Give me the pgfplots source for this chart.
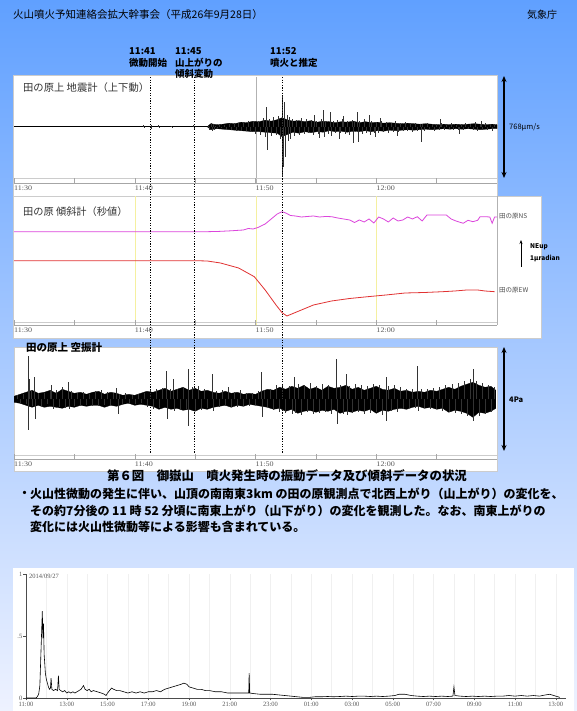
\documentclass[border=0pt]{standalone}
\usepackage{pgfplots}
\pgfplotsset{compat=1.18}
\usepackage{fontspec}
\setmainfont{Liberation Sans}
\newfontfamily\jp{Noto Sans CJK JP}
\newfontfamily\ser{Liberation Serif}
\usetikzlibrary{arrows.meta}
\definecolor{bgtop}{RGB}{96,160,255}
\definecolor{bgmid}{RGB}{165,198,255}
\definecolor{bgbot}{RGB}{238,242,255}
\definecolor{nscol}{RGB}{220,70,220}
\definecolor{ewcol}{RGB}{225,50,50}
\definecolor{gridy}{RGB}{245,240,160}
\newcommand{\fs}[1]{\fontsize{#1bp}{#1bp}\selectfont}
\pgfplotsset{
  panel/.style={scale only axis, width=483bp, xmin=0, xmax=40,
    axis x line*=bottom, axis y line=none, x axis line style={-,gray!70},
    xtick={0,10,20,30}, xticklabels={11:30,11:40,11:50,12:00},
    minor xtick={5,15,25,35}, tick align=inside,
    major tick length=5bp, minor tick length=5bp,
    tick style={gray!70, line width=0.5bp},
    xticklabel style={font=\ser\fs{7}, text=gray!70!black, anchor=north west, inner sep=0pt, yshift=-3bp, xscale=1.15},
    clip=true},
}
\begin{document}
\begin{tikzpicture}[x=1bp,y=1bp, jt/.style={inner sep=0pt, anchor=west}]
\useasboundingbox (0,0) rectangle (577,711);
\clip (0,0) rectangle (577,711);
\shade[top color=bgtop, middle color=bgmid, bottom color=bgbot] (0,0) rectangle (577,711);

% white panels
\fill[white, draw=gray!40, line width=0.5bp] (13,515) rectangle (497,636);
\fill[white, draw=gray!40, line width=0.5bp] (13,373) rectangle (541,515);
\fill[white, draw=gray!40, line width=0.5bp] (14,240) rectangle (497,364);
\fill[white] (13,0) rectangle (574,143);

% header
\node[jt] at (13,696) {\jp\fs{10.5}火山噴火予知連絡会拡大幹事会（平成26年9月28日）};
\node[jt] at (527,696) {\jp\fs{10}気象庁};

% event annotations
\node[jt] at (129,660.3) {\jp\bfseries\fs{9.5}11:41};
\node[jt] at (129,648.3) {\jp\bfseries\fs{9.5}微動開始};
\node[jt] at (175,660.3) {\jp\bfseries\fs{9.5}11:45};
\node[jt] at (175,648.3) {\jp\bfseries\fs{9.5}山上がりの};
\node[jt] at (175,637.2) {\jp\bfseries\fs{9.5}傾斜変動};
\node[jt] at (270,660.3) {\jp\bfseries\fs{9.5}11:52};
\node[jt] at (270,648.3) {\jp\bfseries\fs{9.5}噴火と推定};

% ---------- panel 1: seismometer ----------
\draw[gray!60, line width=0.5bp] (256,634) -- (256,528);
\draw[gray!40, line width=0.5bp] (14,533) -- (497,533);
\begin{axis}[panel, at={(14bp,528bp)}, height=106bp, ymin=-56.3, ymax=49.7]
\addplot[black, line width=0.5bp] coordinates {(0,0) (40,0)};
\addplot[fill=black, draw=black, line width=0.3bp] coordinates {
(16,0) (16.3,3) (16.8,2) (17.3,2.5) (17.8,3.5) (18.3,3) (18.8,4.5) (19.3,4) (19.8,5.5) (20.3,5)
(20.8,6.5) (21.3,5.5) (21.8,7) (22.2,9) (22.6,7) (23.1,5.5) (23.6,6) (24.1,5) (24.6,6) (25.1,4.5)
(25.6,5.5) (26.1,5) (26.6,4) (27.1,5) (27.6,4.5) (28.1,5.5) (28.6,4) (29.1,5) (29.6,4) (30.1,4.5)
(30.6,3.5) (31.1,4) (31.6,3.5) (32.1,3) (32.6,3.5) (33.1,3) (33.6,2.5) (34.1,3) (34.6,2.5) (35.1,2)
(35.6,2.5) (36.1,2) (36.6,2.5) (37.1,2) (37.6,2.5) (38.1,3) (38.6,2.5) (39.1,2) (39.6,2.5) (40,2)
(40,-2) (39.6,-2) (39.1,-2.5) (38.6,-3) (38.1,-2.5) (37.6,-2) (37.1,-2.5) (36.6,-2) (36.1,-2.5)
(35.6,-2) (35.1,-2.5) (34.6,-3) (34.1,-2.5) (33.6,-3) (33.1,-3.5) (32.6,-3) (32.1,-3.5) (31.6,-4)
(31.1,-3.5) (30.6,-4.5) (30.1,-4) (29.6,-5) (29.1,-4) (28.6,-5) (28.1,-4.5) (27.6,-5.5) (27.1,-4.5)
(26.6,-5) (26.1,-4) (25.6,-5.5) (25.1,-5) (24.6,-6) (24.1,-5) (23.6,-6.5) (23.1,-5.5) (22.6,-8)
(22.2,-10) (21.8,-6.5) (21.3,-6) (20.8,-5.5) (20.3,-5) (19.8,-5) (19.3,-4.5) (18.8,-4) (18.3,-3.5)
(17.8,-3) (17.3,-2.5) (16.8,-2) (16.3,-3) (16,0)
} -- cycle;
\addplot[ycomb, black!80, line width=0.4bp] coordinates {
(10.7,1.5) (10.75,-1.5) (11.35,2) (11.4,-2) (11.95,1.5) (12.0,-1.5) (13.05,1) (13.1,-1)
(14.85,2) (14.9,-2.5) (16.1,2) (16.2,-3) (16.3,4) (16.4,-4)
(16.5,3) (16.6,-3) (16.7,1) (16.8,-1) (17.0,1.5) (17.2,-1.5) (17.4,2) (17.6,-2) (17.8,3)
(18.0,-3) (18.2,4) (18.4,-4) (18.6,3.5) (18.8,-4.5) (19.0,5) (19.2,-4) (19.4,5.5) (19.6,-5)
(19.8,6) (20.0,-7) (20.2,6) (20.4,-8) (20.6,9) (20.8,-10) (20.9,20) (21.0,-23) (21.1,8)
(21.3,-9) (21.5,10) (21.7,-8) (21.9,11) (22.05,-12) (22.2,32) (22.25,-50) (22.3,-40) (22.35,25) (22.4,20) (22.5,-30)
(22.6,12) (22.7,-14) (22.8,10) (22.9,-12) (23.0,8) (23.2,-9) (23.4,7) (23.6,-8) (23.8,9)
(24.0,-7) (24.2,8) (24.4,-6) (24.6,7) (24.8,-8) (24.9,12) (25.0,6) (25.2,-7) (25.3,-11) (25.4,8) (25.6,17)
(25.7,-10) (25.8,6) (26.0,-7) (26.2,15) (26.3,-9) (26.4,6) (26.6,-6) (26.8,7) (26.9,-12) (27.0,-6)
(27.2,8) (27.3,11) (27.4,-7) (27.6,6) (27.8,-8) (28.0,7) (28.1,-16) (28.2,6) (28.4,15) (28.5,-15)
(28.6,6) (28.8,-7) (29.0,8) (29.2,-6) (29.4,12) (29.5,-8) (29.6,6) (29.8,-6) (29.9,-10) (30.0,5)
(30.2,-6) (30.3,9) (30.4,6) (30.6,-5) (30.8,5) (31.0,-6) (31.2,4) (31.4,-5) (31.6,6) (31.7,-9) (31.8,-5)
(32.0,4) (32.2,-4) (32.4,5) (32.6,-4) (32.8,4) (33.0,-5) (33.2,4) (33.4,-4) (33.6,3)
(33.7,-15) (33.8,3) (34.0,-4) (34.2,4) (34.4,-3) (34.6,3) (34.8,-4) (35.0,3) (35.2,-3) (35.3,8)
(35.4,4) (35.6,-3) (35.8,3) (36.0,-2) (36.2,4) (36.4,-3) (36.6,2) (36.8,-3) (36.9,-7) (37.0,3)
(37.2,-3) (37.4,4) (37.6,-2) (37.8,3) (38.0,-3) (38.2,5) (38.4,-4) (38.6,3) (38.7,6) (38.8,-3)
(39.0,4) (39.2,-3) (39.4,3) (39.6,-4) (39.8,3)
};
\end{axis}
\node[jt] at (23,623.7) {\jp\fs{10.3}\color{black!80}田の原上 地震計（上下動）};
\draw[line width=1.3bp, {Stealth[length=6bp,width=5bp]}-{Stealth[length=6bp,width=5bp]}] (504,635) -- (504,533);
\node[jt] at (509,584) {\jp\fs{7.5}768μm/s};

% ---------- panel 2: tiltmeter ----------
\draw[gridy, line width=0.8bp] (135,386) -- (135,515);
\draw[gridy, line width=0.8bp] (256,386) -- (256,515);
\draw[gridy, line width=0.8bp] (376,386) -- (376,515);
\draw[gray!60, line width=0.5bp] (497,386) -- (497,515);
\draw[gray!40, line width=0.5bp] (14,389) -- (497,389);
\begin{axis}[panel, at={(14bp,386bp)}, height=129bp, ymin=0, ymax=129]
\addplot[nscol, line width=0.8bp] coordinates {
(0,93.3) (16.0,93.3) (17.0,93.6) (18.0,94.2) (19.0,95.0) (19.4,96.5) (19.8,96.0) (20.2,97.5)
(20.8,101) (21.3,106) (21.8,111) (22.2,113.3) (22.5,112) (22.9,109.5) (23.3,109) (23.8,108)
(24.3,108.5) (24.8,109) (25.3,108) (25.8,108.5) (26.3,108.3) (26.8,107) (27.3,106) (27.8,105)
(28.2,102.5) (28.6,105) (29.0,103) (29.4,106) (29.8,102) (30.2,108) (30.6,106) (31.0,103)
(31.4,107) (31.8,104) (32.2,105) (32.6,108) (33.0,106) (33.4,108.3) (33.8,104) (34.2,110)
(34.6,110) (35.2,110) (35.8,110) (36.2,106) (36.6,104) (37.2,101.7) (37.6,104.7) (38.0,103.3)
(38.4,104.7) (38.6,108.3) (39.0,108.3) (39.4,108) (39.6,101.7) (39.8,108) (40,108)
};
\addplot[ewcol, line width=0.8bp] coordinates {
(0,64.3) (15.0,64.3) (16.0,64) (17.1,62) (18.6,57) (19.9,48.3) (20.8,35) (21.7,20) (22.2,12.3)
(22.6,9) (23.2,12) (24.0,16) (24.8,20) (26.3,24) (27.8,26.5) (29.3,28.3) (30.8,30) (32.4,32)
(34.0,32.5) (35.5,33.3) (36.5,34) (37.5,35) (38.4,35) (39.0,34) (39.8,33.3)
};
\end{axis}
\node[jt] at (23,499.3) {\jp\fs{10.2}\color{black!80}田の原 傾斜計（秒値）};
\node[jt] at (499,495) {\jp\fs{6.5}\color{black!70}田の原NS};
\node[jt] at (499,421) {\jp\fs{6.5}\color{black!70}田の原EW};
\draw[line width=0.6bp, -{Stealth[length=4bp]}] (521,444) -- (521,471);
\node[jt] at (530,464) {\jp\bfseries\fs{6.5}NEup};
\node[jt] at (530,453) {\jp\bfseries\fs{6.5}1μradian};

% ---------- panel 3: infrasound ----------
\draw[gray!40, line width=0.5bp] (14,256) -- (497,256);
\begin{axis}[panel, at={(14bp,252bp)}, height=112bp, ymin=-59.7, ymax=52.3]
\addplot[fill=black, draw=black, line width=0.3bp] coordinates {
(0,3) (0.5,5) (1,7) (1.5,9) (2,6) (2.5,7) (3,9) (3.5,6) (4,10) (4.5,8) (5,6) (5.5,7) (6,5)
(6.5,7) (7,8) (7.5,5) (8,7) (8.5,6) (9,4) (9.5,5) (10,4) (10.5,6) (11,8) (11.5,7) (12,9)
(12.5,11) (13,8) (13.5,10) (14,12) (14.5,9) (15,11) (15.5,8) (16,9) (16.5,7) (17,6) (17.5,8)
(18,6) (18.5,7) (19,5) (19.5,6) (20,5) (20.5,8) (21,10) (21.5,9) (22,12) (22.5,10) (23,13)
(23.5,11) (24,14) (24.5,10) (25,12) (25.5,9) (26,13) (26.5,11) (27,12) (27.5,14) (28,10)
(28.5,12) (29,9) (29.5,11) (30,13) (30.5,10) (31,9) (31.5,11) (32,8) (32.5,9) (33,7) (33.5,8)
(34,7) (34.5,9) (35,8) (35.5,10) (36,12) (36.5,10) (37,13) (37.5,15) (38,17) (38.5,14) (39,12)
(39.5,13) (39.9,9)
(39.9,-9) (39.5,-12) (39,-14) (38.5,-13) (38,-18) (37.5,-14) (37,-12) (36.5,-11) (36,-13)
(35.5,-9) (35,-10) (34.5,-8) (34,-9) (33.5,-7) (33,-8) (32.5,-10) (32,-9) (31.5,-10) (31,-12)
(30.5,-11) (30,-14) (29.5,-10) (29,-12) (28.5,-11) (28,-13) (27.5,-12) (27,-14) (26.5,-10)
(26,-12) (25.5,-11) (25,-13) (24.5,-11) (24,-12) (23.5,-14) (23,-10) (22.5,-12) (22,-9)
(21.5,-10) (21,-8) (20.5,-7) (20,-6) (19.5,-5) (19,-7) (18.5,-6) (18,-8) (17.5,-6) (17,-7)
(16.5,-8) (16,-10) (15.5,-9) (15,-12) (14.5,-10) (14,-11) (13.5,-9) (13,-10) (12.5,-8) (12,-10)
(11.5,-7) (11,-6) (10.5,-5) (10,-6) (9.5,-4) (9,-5) (8.5,-7) (8,-6) (7.5,-8) (7,-6) (6.5,-6)
(6,-7) (5.5,-6) (5,-8) (4.5,-7) (4,-9) (3.5,-8) (3,-7) (2.5,-8) (2,-6) (1.5,-8) (1,-6) (0.5,-4) (0,-3)
} -- cycle;
\addplot[ycomb, black!80, line width=0.4bp] coordinates {
(0.25,4) (0.5,-4) (0.75,5) (1.0,-5) (1.15,43) (1.2,-31) (1.25,20) (1.4,8) (1.5,-7) (1.7,22) (1.75,-20)
(2.0,6) (2.25,-7) (2.5,6) (2.75,-5) (3.0,8) (3.1,14) (3.25,-10) (3.5,9) (3.75,-8) (4.0,12)
(4.25,-9) (4.5,17) (4.6,-10) (4.75,8) (5.0,-7) (5.25,6) (5.5,-6) (5.75,7) (6.0,-6) (6.25,5)
(6.5,-7) (6.75,8) (7.0,-7) (7.25,9) (7.5,-6) (7.75,7) (8.0,-6) (8.25,6) (8.5,11) (8.6,-15)
(8.75,5) (9.0,-5) (9.25,6) (9.5,-5) (9.75,4) (10.0,-5) (10.25,5) (10.5,-4) (10.75,6) (11.0,-8)
(11.25,9) (11.5,-10) (11.75,10) (12.0,-9) (12.25,11) (12.6,28) (12.65,-20) (12.9,10) (13.2,20)
(13.3,-12) (13.5,10) (13.75,-11) (14.0,12) (14.25,-10) (14.4,30) (14.45,-27) (14.75,12) (15.0,-12)
(15.25,13) (15.5,-11) (15.75,10) (16.0,-9) (16.4,25) (16.5,-12) (16.75,8) (17.0,-8) (17.25,9)
(17.5,-7) (17.75,12) (18.0,-8) (18.25,7) (18.5,-8) (18.75,9) (19.0,-7) (19.25,6) (19.5,-7)
(19.75,6) (20.0,-6) (20.25,8) (20.5,27) (20.55,-18) (20.75,9) (21.0,-8) (21.25,10) (21.5,-11)
(21.75,14) (22.0,-13) (22.25,15) (22.5,-14) (22.75,13) (23.0,-15) (23.2,22) (23.3,-14) (23.5,15)
(23.75,-16) (24.0,14) (24.25,-13) (24.5,16) (24.75,-15) (25.0,13) (25.25,-14) (25.5,15) (25.75,-13)
(26.0,14) (26.25,-15) (26.7,40) (26.75,-25) (27.0,14) (27.25,-15) (27.5,25) (27.6,-16) (27.75,13)
(28.0,-14) (28.25,15) (28.5,-13) (28.75,14) (29.0,-15) (29.25,13) (29.5,-14) (29.75,15) (30.0,-13)
(30.25,14) (30.5,-16) (30.8,22) (30.85,-22) (31.0,13) (31.25,-12) (31.5,14) (31.75,-13) (32.0,12)
(32.25,-10) (32.5,10) (32.75,-9) (33.0,10) (33.25,-9) (33.4,33) (33.5,-12) (33.75,10) (34.0,-9)
(34.25,10) (34.5,-10) (34.75,11) (35.0,-10) (35.25,12) (35.5,-12) (35.75,14) (36.0,-13) (36.25,15)
(36.5,-14) (36.75,16) (37.0,-15) (37.25,18) (37.5,-17) (37.75,20) (38.0,30) (38.05,-22) (38.25,18)
(38.5,-17) (38.75,16) (39.0,-15) (39.25,14) (39.5,-13) (39.75,12)
};
\end{axis}
\node[jt] at (26,363) {\jp\bfseries\fs{10.5}田の原上 空振計};
\draw[line width=1.3bp, {Stealth[length=6bp,width=5bp]}-{Stealth[length=6bp,width=5bp]}] (504,364) -- (504,260);
\node[jt] at (509,311) {\jp\bfseries\fs{7.5}4Pa};

% event lines
\foreach \xx in {150,194,282}
  \draw[black, line width=0.7bp, dash pattern=on 1.3bp off 1.3bp] (\xx,634) -- (\xx,258);

% caption and text
\node[inner sep=0pt] at (287,235) {\jp\bfseries\fs{12.4}第６図　御嶽山　噴火発生時の振動データ及び傾斜データの状況};
\node[inner sep=0pt] at (24.7,217) {\jp\bfseries\fs{12}・};
\node[jt] at (30,217) {\jp\bfseries\fs{12}火山性微動の発生に伴い、山頂の南南東3km の田の原観測点で北西上がり（山上がり）の変化を、};
\node[jt] at (30,200.5) {\jp\bfseries\fs{12}その約7分後の 11 時 52 分頃に南東上がり（山下がり）の変化を観測した。なお、南東上がりの};
\node[jt] at (30,184) {\jp\bfseries\fs{12}変化には火山性微動等による影響も含まれている。};

% ---------- bottom chart ----------
\begin{axis}[scale only axis, at={(26bp,13bp)}, width=540bp, height=124bp,
  xmin=0, xmax=26.5, ymin=0, ymax=1,
  axis x line*=bottom, axis y line*=left, axis line style={-,black!70},
  xtick={0,2,...,26},
  xticklabels={11:00,13:00,15:00,17:00,19:00,21:00,23:00,01:00,03:00,05:00,07:00,09:00,11:00,13:00},
  minor xtick={1,3,...,25}, xminorgrids, xmajorgrids, grid style={gray!12},
  ytick={0,0.5,1}, yticklabels={0,.5,1},
  tick align=outside, major tick length=2.5bp, minor tick length=0pt,
  tick style={black!70},
  xticklabel style={font=\ser\fs{6.5}, text=gray!70!black, inner sep=1bp},
  yticklabel style={font=\ser\fs{6.5}, text=gray!70!black, inner sep=1bp},
  clip=false]
\addplot[black, line width=0.6bp] coordinates {
(0,0) (0.5,0) (0.55,0.01) (0.62,0.03) (0.68,0.10) (0.72,0.30) (0.76,0.50) (0.80,0.70) (0.83,0.48)
(0.86,0.60) (0.89,0.35) (0.92,0.28) (0.95,0.20) (1.0,0.15) (1.05,0.12) (1.1,0.09) (1.15,0.07)
(1.2,0.08) (1.23,0.16) (1.27,0.07) (1.35,0.06) (1.45,0.07) (1.55,0.06) (1.59,0.18) (1.63,0.07)
(1.7,0.06) (1.8,0.05) (1.9,0.06) (2.0,0.04) (2.1,0.05) (2.2,0.04) (2.3,0.05) (2.4,0.04) (2.5,0.05)
(2.6,0.06) (2.7,0.07) (2.82,0.10) (2.9,0.07) (3.0,0.06) (3.1,0.07) (3.2,0.05) (3.3,0.06) (3.5,0.05)
(3.7,0.04) (3.85,0.03) (3.93,0.02) (4.0,0.04) (4.1,0.06) (4.2,0.08) (4.3,0.07) (4.45,0.06)
(4.6,0.06) (4.8,0.05) (5.0,0.04) (5.2,0.05) (5.4,0.04) (5.6,0.05) (5.8,0.04) (6.0,0.05) (6.2,0.05)
(6.4,0.06) (6.6,0.05) (6.8,0.07) (7.0,0.08) (7.2,0.09) (7.4,0.10) (7.6,0.11) (7.75,0.12) (7.9,0.11)
(8.0,0.09) (8.2,0.08) (8.4,0.07) (8.6,0.07) (8.8,0.06) (9.0,0.06) (9.3,0.05) (9.6,0.05) (9.9,0.04)
(10.2,0.04) (10.5,0.04) (10.8,0.04) (10.93,0.04) (10.95,0.20) (10.98,0.04) (11.2,0.035) (11.5,0.03)
(11.8,0.03) (12.1,0.03) (12.4,0.025) (12.7,0.02) (13.0,0.015) (13.3,0.01) (13.6,0.005) (13.9,0.005)
(14.2,0.01) (14.5,0.01) (14.8,0.012) (15.1,0.01) (15.4,0.012) (15.7,0.015) (16.0,0.012) (16.3,0.015)
(16.6,0.015) (16.9,0.012) (17.2,0.015) (17.5,0.012) (17.8,0.015) (18.1,0.02) (18.3,0.03) (18.6,0.03)
(18.9,0.02) (19.2,0.015) (19.5,0.012) (19.8,0.015) (20.1,0.012) (20.4,0.015) (20.7,0.012)
(20.95,0.015) (21.0,0.09) (21.05,0.02) (21.3,0.015) (21.6,0.012) (21.9,0.015) (22.2,0.012)
(22.5,0.015) (22.8,0.012) (23.1,0.015) (23.4,0.015) (23.7,0.02) (24.0,0.015) (24.3,0.02)
(24.6,0.015) (24.9,0.02) (25.2,0.015) (25.5,0.025) (25.7,0.03) (25.9,0.02) (26.1,0.01) (26.2,0.005)
};
\end{axis}
\node[jt] at (29,135) {\ser\fs{6.5}\color{gray!70!black}2014/09/27};
\end{tikzpicture}
\end{document}
